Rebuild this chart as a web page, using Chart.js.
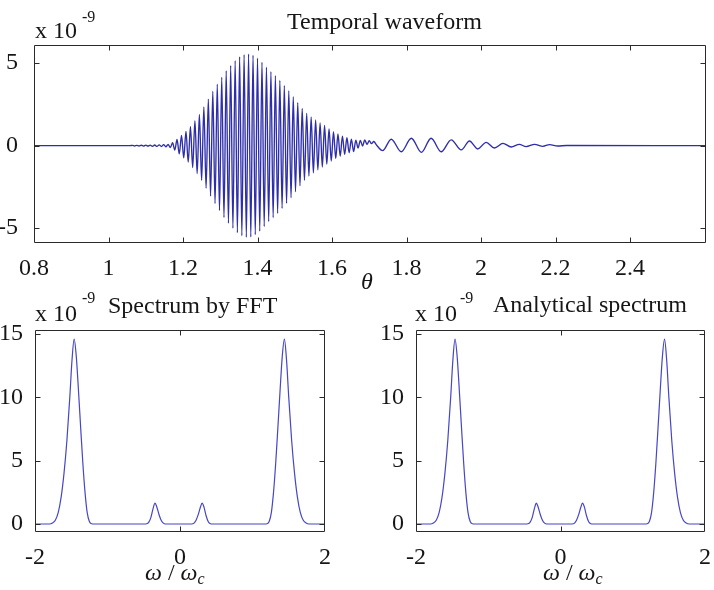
<!DOCTYPE html>
<html><head><meta charset="utf-8">
<script src="https://cdn.jsdelivr.net/npm/chart.js@4.4.1/dist/chart.umd.min.js"></script>
<style>
body{margin:0;background:#fff;width:714px;height:590px;position:relative;overflow:hidden}
canvas{position:absolute}
</style>
</head><body>
<canvas id="c1" width="714" height="300" style="left:0;top:0"></canvas>
<canvas id="c2" width="357" height="310" style="left:0;top:280px"></canvas>
<canvas id="c3" width="357" height="310" style="left:357px;top:280px"></canvas>
<script>
// ---------- data (units of 1e-9) ----------
const waveTheta = [0.80, 1.058, 1.064, 1.070, 1.076, 1.082, 1.088, 1.094,
  1.100,1.106,1.112,1.118,1.124,1.130,1.136,1.142,1.148,1.154,
  1.160,1.166,1.172,1.178,1.184,1.190,1.196,1.202,1.208,1.214,
  1.220,1.226,1.232,1.238,1.244,1.250,1.256,1.262,1.268,1.274,
  1.280,1.286,1.292,1.298,1.304,1.310,1.316,1.322,1.328,1.334,
  1.340,1.346,1.352,1.358,1.364,1.370,1.376,1.382,1.388,1.394,
  1.400,1.406,1.412,1.418,1.424,1.430,1.436,1.442,1.448,1.454,
  1.460,1.466,1.472,1.478,1.484,1.490,1.496,1.502,1.508,1.514,
  1.520,1.526,1.532,1.538,1.544,1.550,1.556,1.562,1.568,1.574,
  1.580,1.586,1.592,1.598,1.604,1.610,1.616,1.622,1.628,1.634,
  1.640,1.646,1.652,1.658,1.664,1.670,1.676,1.682,1.688,1.694,
  1.700,1.706,1.712,1.720,
  1.736,1.759,1.786,1.813,1.840,1.866,1.893,1.920,1.947,1.969,
  1.991,2.014,2.036,2.059,2.081,2.103,2.121,2.144,2.166,2.184,
  2.206,2.230,2.604];
const waveAmp = [0, 0, 0.02, -0.02, 0.02, -0.02, 0.025, -0.025,
  0.03,-0.03,0.035,-0.04,0.04,-0.045,0.05,-0.05,0.06,-0.07,
  0.08,-0.12,0.18,-0.27,0.38,-0.50,0.62,-0.74,0.86,-1.00,
  1.15,-1.33,1.51,-1.69,1.89,-2.10,2.34,-2.58,2.82,-3.06,
  3.30,-3.51,3.72,-3.93,4.14,-4.35,4.53,-4.70,4.85,-5.00,
  5.15,-5.27,5.38,-5.46,5.51,-5.55,5.55,-5.53,5.47,-5.39,
  5.30,-5.18,5.05,-4.90,4.75,-4.60,4.48,-4.36,4.24,-4.10,
  3.95,-3.80,3.65,-3.50,3.33,-3.15,2.97,-2.79,2.61,-2.43,
  2.25,-2.10,1.96,-1.84,1.74,-1.65,1.56,-1.47,1.38,-1.30,
  1.22,-1.12,1.02,-0.93,0.85,-0.78,0.71,-0.64,0.58,-0.53,
  0.48,-0.43,0.39,-0.36,0.33,-0.15,0.32,-0.02,0.34,0.08,
  0.30,0.12,0.25,0.02,
  -0.30,0.39,-0.37,0.45,-0.41,0.45,-0.37,0.35,-0.26,0.28,
  -0.20,0.20,-0.14,0.14,-0.08,0.08,-0.06,0.08,-0.04,0.06,
  -0.02,0.01,0];

const fftOmega = [-2.00,-1.80,-1.76,-1.72,-1.68,-1.64,-1.60,-1.56,-1.52,-1.49,
  -1.46,-1.43,-1.40,-1.37,-1.34,-1.31,-1.28,-1.25,-1.22,-1.18,
  -0.50,-0.46,-0.43,-0.40,-0.37,-0.345,-0.32,-0.29,-0.26,-0.23,
  -0.20,0.16,0.19,0.22,0.25,0.28,0.305,0.33,0.36,0.39,
  0.42,0.45,1.16,1.20,1.23,1.26,1.29,1.32,1.35,1.38,
  1.41,1.44,1.47,1.50,1.54,1.58,1.62,1.66,1.70,1.74,
  1.78,2.00];
const fftAmp = [0,0,0.08,0.3,0.9,2.1,4.0,6.6,10.0,12.9,
  14.6,13.2,10.5,7.6,4.8,2.5,0.9,0.2,0.02,0,
  0,0.02,0.15,0.55,1.25,1.65,1.35,0.75,0.3,0.07,
  0,0,0.05,0.28,0.72,1.3,1.65,1.35,0.65,0.18,
  0.02,0,0,0.02,0.2,0.9,2.5,4.8,7.6,10.5,
  13.2,14.6,12.9,10.0,6.6,4.0,2.1,0.9,0.3,0.08,
  0,0];

const anaOmega = [-2.00,-1.80,-1.76,-1.72,-1.68,-1.64,-1.60,-1.56,-1.52,-1.49,
  -1.46,-1.43,-1.40,-1.37,-1.34,-1.31,-1.28,-1.25,-1.22,-1.18,
  -0.49,-0.45,-0.42,-0.39,-0.36,-0.335,-0.31,-0.28,-0.25,-0.22,
  -0.19,0.16,0.19,0.22,0.25,0.28,0.305,0.33,0.36,0.39,
  0.42,0.45,1.16,1.20,1.23,1.26,1.29,1.32,1.35,1.38,
  1.41,1.44,1.47,1.50,1.54,1.58,1.62,1.66,1.70,1.74,
  1.78,2.00];
const anaAmp = [0,0,0.08,0.3,0.9,2.1,4.0,6.6,10.0,12.9,
  14.6,13.2,10.5,7.6,4.8,2.5,0.9,0.2,0.02,0,
  0,0.02,0.15,0.55,1.25,1.65,1.35,0.75,0.3,0.07,
  0,0,0.05,0.28,0.72,1.3,1.65,1.35,0.65,0.18,
  0.02,0,0,0.02,0.2,0.9,2.5,4.8,7.6,10.5,
  13.2,14.6,12.9,10.0,6.6,4.0,2.1,0.9,0.3,0.08,
  0,0];

const waveXTicks = [0.8, 1, 1.2, 1.4, 1.6, 1.8, 2, 2.2, 2.4];
const waveYTicks = [-5, 0, 5];
const specXTicks = [-2, 0, 2];
const specYTicks = [0, 5, 10, 15];

// ---------- drawing ----------
const FAM = '"Liberation Serif","Times New Roman",serif';
const INK = '#161616';

const matlabPlugin = {
  id: 'matlab',
  afterDraw(chart, args, o) {
    const {ctx, chartArea: a} = chart;
    const xs = chart.scales.x, ys = chart.scales.y;
    ctx.save();
    ctx.strokeStyle = '#2a2a2a'; ctx.lineWidth = 1;
    const L = Math.round(a.left) + 0.5, R = Math.round(a.right) - 0.5;
    const T = Math.round(a.top) + 0.5, B = Math.round(a.bottom) - 0.5;
    ctx.beginPath();
    ctx.rect(L, T, R - L, B - T);
    xs.ticks.forEach(t => {
      const p = Math.round(xs.getPixelForValue(t.value)) + 0.5;
      if (p <= L + 1 || p >= R - 1) return;
      ctx.moveTo(p, B); ctx.lineTo(p, B - o.tick);
      ctx.moveTo(p, T); ctx.lineTo(p, T + o.tick);
    });
    ys.ticks.forEach(t => {
      const p = Math.round(ys.getPixelForValue(t.value)) + 0.5;
      if (p <= T + 1 || p >= B - 1) return;
      ctx.moveTo(L, p); ctx.lineTo(L + o.tick, p);
      ctx.moveTo(R, p); ctx.lineTo(R - o.tick, p);
    });
    ctx.stroke();
    ctx.fillStyle = INK;
    ctx.textBaseline = 'alphabetic';
    ctx.textAlign = 'left';
    (o.texts || []).forEach(item => {
      const fontOf = p => (p.italic ? 'italic ' : '') + p.size + 'px ' + FAM;
      let w = 0;
      item.parts.forEach(p => { ctx.font = fontOf(p); w += ctx.measureText(p.t).width; });
      let x = item.x - o.ox - (item.align === 'center' ? w / 2 : 0);
      item.parts.forEach(p => {
        ctx.font = fontOf(p);
        ctx.fillText(p.t, x, item.y - o.oy + (p.dy || 0));
        x += ctx.measureText(p.t).width;
      });
    });
    ctx.restore();
  }
};

function makeChart(id, cfg) {
  const fmt = v => String(Math.round(v * 1000) / 1000);
  return new Chart(document.getElementById(id), {
    type: 'line',
    data: { datasets: [{
      data: cfg.xs.map((x, i) => ({ x: x, y: cfg.ys[i] })),
      borderColor: cfg.color, borderWidth: cfg.lw,
      pointRadius: 0, fill: false, cubicInterpolationMode: 'monotone'
    }]},
    options: {
      responsive: false, animation: false, events: [],
      layout: { padding: cfg.pad, autoPadding: false },
      plugins: { legend: { display: false }, tooltip: { enabled: false },
        matlab: { tick: cfg.tick, texts: cfg.texts, ox: cfg.ox, oy: cfg.oy } },
      scales: {
        x: { type: 'linear', min: cfg.xmin, max: cfg.xmax,
          grid: { display: false }, border: { display: false },
          ticks: { font: { family: FAM, size: 24 }, color: INK, padding: cfg.xpad,
                   maxRotation: 0, autoSkip: false, callback: fmt },
          afterBuildTicks: s => { s.ticks = cfg.xt.map(v => ({ value: v })); },
          afterFit: s => { s.height = cfg.xh; } },
        y: { type: 'linear', min: cfg.ymin, max: cfg.ymax,
          grid: { display: false }, border: { display: false },
          ticks: { font: { family: FAM, size: 24 }, color: INK, padding: cfg.ypad,
                   autoSkip: false, callback: fmt },
          afterBuildTicks: s => { s.ticks = cfg.yt.map(v => ({ value: v })); },
          afterFit: s => { s.width = cfg.yw; } }
      }
    },
    plugins: [matlabPlugin]
  });
}

const sup = (x, y, xs, ys) => [
  { x: x, y: y, parts: [{ t: 'x 10', size: 24 }] },
  { x: xs, y: ys, parts: [{ t: '-9', size: 16 }] }
];
const omegaLabel = (x, y) => ({ x: x, y: y, parts: [
  { t: 'ω', size: 24, italic: true }, { t: ' / ', size: 24 },
  { t: 'ω', size: 24, italic: true }, { t: 'c', size: 16, italic: true, dy: 4 }] });

makeChart('c1', {
  xs: waveTheta, ys: waveAmp, color: 'rgb(46,46,170)', lw: 1.35,
  xmin: 0.8, xmax: 2.604, ymin: -5.9, ymax: 6.1, xt: waveXTicks, yt: waveYTicks,
  pad: { left: 0, top: 45, right: 8, bottom: 0 }, xh: 57, yw: 34, xpad: 3, ypad: 8, tick: 5,
  ox: 0, oy: 0,
  texts: [
    { x: 287, y: 29, parts: [{ t: 'Temporal waveform', size: 24 }] },
    ...sup(35, 38, 82, 22),
    { x: 367, y: 289, align: 'center', parts: [{ t: 'θ', size: 24, italic: true }] }
  ]
});

makeChart('c2', {
  xs: fftOmega, ys: fftAmp, color: 'rgb(70,70,200)', lw: 1.2,
  xmin: -2, xmax: 2, ymin: -0.63, ymax: 15.32, xt: specXTicks, yt: specYTicks,
  pad: { left: 0, top: 50, right: 32, bottom: 0 }, xh: 58, yw: 35, xpad: 3, ypad: 4, tick: 5,
  ox: 0, oy: 280,
  texts: [
    ...sup(35, 321, 82, 303),
    { x: 108, y: 313, parts: [{ t: 'Spectrum by FFT', size: 24 }] },
    omegaLabel(145, 580)
  ]
});

makeChart('c3', {
  xs: anaOmega, ys: anaAmp, color: 'rgb(70,70,200)', lw: 1.2,
  xmin: -2, xmax: 2, ymin: -0.63, ymax: 15.32, xt: specXTicks, yt: specYTicks,
  pad: { left: 24, top: 50, right: 7, bottom: 0 }, xh: 58, yw: 35, xpad: 3, ypad: 4, tick: 5,
  ox: 357, oy: 280,
  texts: [
    ...sup(415, 321, 460, 303),
    { x: 493, y: 312, parts: [{ t: 'Analytical spectrum', size: 24 }] },
    omegaLabel(543, 580)
  ]
});
</script>
</body></html>
